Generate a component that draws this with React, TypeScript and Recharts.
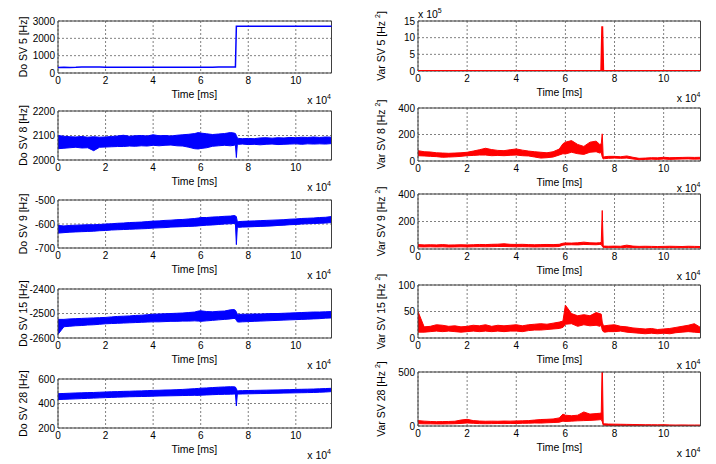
import React from 'react';
import { ComposedChart, Area, Line, XAxis, YAxis, CartesianGrid, ReferenceArea } from 'recharts';

const FONT = '"Liberation Sans", Arial, Helvetica, sans-serif';
const BLUE = '#0000ff';
const RED = '#ff0000';
const X_MAX = 115000;
const xTicks = [0, 20000, 40000, 60000, 80000, 100000];

// time axis in ms (shared by all series)
const timeMs = [
  0, 2500, 5000, 7500, 10000, 12500, 15000, 17500, 20000, 22500, 25000, 27500,
  30000, 32500, 35000, 37500, 40000, 42500, 45000, 47500, 50000, 52500, 55000, 57500,
  59000, 60000, 62500, 65000, 67500, 70000, 72500, 74000, 74600, 75000, 75400, 76000,
  77500, 80000, 82500, 85000, 87500, 90000, 92500, 95000, 97500, 100000, 102500, 105000, 107500, 110000, 112500, 115000,
];

// Doppler, SV 5 [Hz]
const doSv5 = [
  320, 325, 322, 328, 345, 352, 348, 340, 330, 328, 326, 330,
  328, 325, 327, 330, 328, 326, 329, 331, 328, 330, 327, 329,
  331, 330, 328, 332, 345, 352, 350, 346, 342, 2700, 2700, 2700,
  2700, 2700, 2700, 2700, 2700, 2700, 2700, 2700, 2700, 2700, 2700, 2700, 2700, 2700, 2700, 2700,
];
// Variance, SV 5 [Hz^2]
const varSv5 = [
  2500, 1800, 1500, 1200, 1600, 1400, 1100, 1300, 1200, 1500, 1400, 1300,
  1200, 1400, 1300, 1500, 1400, 1200, 1300, 1400, 1300, 1500, 1600, 1800,
  2500, 2200, 2600, 2400, 2300, 2700, 2600, 2500, 2400, 1340000, 900, 800,
  800, 700, 800, 900, 700, 600, 700, 650, 700, 600, 650, 700, 600, 650, 700, 600,
];

// SV 8 : noise envelope (low / high)
const doSv8Lo = [
  2046, 2048, 2050, 2052, 2049, 2050, 2038, 2052, 2053, 2054, 2055, 2055,
  2057, 2056, 2058, 2057, 2060, 2058, 2060, 2061, 2058, 2057, 2052, 2046,
  2045, 2047, 2050, 2056, 2058, 2060, 2058, 2060, 2062, 2010, 2063, 2064,
  2065, 2063, 2064, 2062, 2064, 2065, 2063, 2064, 2065, 2066, 2064, 2066, 2065, 2066, 2065, 2067,
];
const doSv8Hi = [
  2100, 2097, 2095, 2094, 2096, 2093, 2095, 2093, 2094, 2096, 2098, 2101,
  2097, 2099, 2100, 2098, 2103, 2099, 2100, 2098, 2101, 2103, 2105, 2108,
  2112, 2110, 2107, 2104, 2106, 2108, 2112, 2110, 2108, 2100, 2090, 2088,
  2087, 2088, 2087, 2090, 2091, 2089, 2091, 2090, 2092, 2091, 2093, 2092, 2094, 2092, 2094, 2093,
];
const varSv8Lo = [
  40, 38, 35, 33, 28, 30, 32, 35, 40, 42, 45, 45,
  40, 42, 40, 43, 45, 40, 38, 30, 22, 25, 30, 45,
  55, 53, 66, 55, 50, 66, 70, 60, 65, 30, 15, 18,
  20, 22, 20, 22, 15, 10, 12, 14, 12, 15, 12, 14, 15, 16, 14, 15,
];
const varSv8Hi = [
  78, 70, 68, 62, 60, 58, 60, 62, 66, 75, 85, 96,
  86, 80, 78, 85, 91, 82, 75, 70, 66, 62, 70, 90,
  130, 142, 154, 125, 110, 142, 150, 125, 130, 205, 30, 32,
  35, 35, 32, 38, 28, 20, 22, 25, 24, 28, 25, 26, 27, 28, 27, 28,
];

// SV 9
const doSv9Lo = [
  -638, -636, -634, -633, -632, -631, -630, -628, -627, -625, -624, -623,
  -622, -621, -620, -619, -617, -616, -615, -613, -612, -611, -610, -609,
  -608, -607, -605, -604, -602, -600, -599, -598, -597, -686, -614, -614,
  -613, -612, -611, -610, -609, -608, -606, -605, -603, -602, -600, -599, -598, -597, -596, -594,
];
const doSv9Hi = [
  -606, -608, -606, -605, -604, -603, -603, -602, -600, -599, -597, -596,
  -594, -593, -592, -590, -588, -587, -585, -584, -582, -581, -579, -577,
  -575, -573, -573, -571, -570, -568, -567, -565, -566, -570, -590, -590,
  -589, -588, -587, -586, -585, -584, -583, -582, -580, -579, -577, -576, -575, -573, -572, -569,
];
const varSv9Lo = [
  16, 15, 16, 15, 16, 14, 15, 16, 15, 16, 17, 16,
  17, 18, 18, 17, 16, 17, 16, 15, 16, 17, 16, 18,
  28, 30, 31, 30, 33, 32, 31, 33, 32, 20, 10, 11,
  10, 11, 10, 12, 11, 10, 10, 11, 10, 10, 11, 10, 10, 11, 10, 10,
];
const varSv9Hi = [
  32, 30, 31, 30, 32, 29, 30, 31, 30, 31, 33, 32,
  34, 35, 38, 34, 33, 34, 32, 31, 32, 33, 32, 34,
  42, 44, 43, 45, 50, 45, 44, 46, 48, 280, 22, 21,
  20, 21, 20, 28, 21, 19, 20, 19, 18, 19, 20, 19, 18, 20, 19, 18,
];

// SV 15
const doSv15Lo = [
  -2585, -2554, -2552, -2550, -2549, -2547, -2546, -2544, -2542, -2541, -2540, -2539,
  -2538, -2537, -2536, -2535, -2534, -2534, -2533, -2532, -2532, -2531, -2531, -2530,
  -2531, -2532, -2530, -2528, -2526, -2524, -2522, -2520, -2521, -2528, -2534, -2535,
  -2534, -2533, -2532, -2531, -2530, -2529, -2528, -2527, -2526, -2525, -2524, -2523, -2522, -2521, -2519, -2518,
];
const doSv15Hi = [
  -2524, -2524, -2522, -2521, -2520, -2519, -2518, -2517, -2516, -2514, -2512, -2511,
  -2510, -2508, -2507, -2505, -2503, -2502, -2501, -2500, -2499, -2498, -2496, -2494,
  -2490, -2489, -2492, -2493, -2491, -2490, -2485, -2484, -2487, -2494, -2503, -2504,
  -2503, -2503, -2502, -2502, -2501, -2500, -2500, -2499, -2498, -2497, -2496, -2495, -2494, -2494, -2493, -2492,
];
const varSv15Lo = [
  11, 11, 12, 13, 12, 13, 12, 11, 12, 13, 12, 13,
  12, 13, 12, 13, 13, 12, 14, 15, 15, 16, 17, 18,
  20, 26, 27, 22, 25, 23, 24, 22, 24, 15, 12, 11,
  12, 12, 13, 11, 10, 9, 8, 9, 8, 9, 8, 10, 11, 12, 11, 10,
];
const varSv15Hi = [
  50, 21, 22, 25, 24, 22, 23, 21, 22, 24, 23, 25,
  22, 24, 23, 24, 25, 23, 25, 26, 27, 26, 28, 30,
  32, 62, 46, 42, 44, 42, 48, 46, 45, 30, 24, 23,
  24, 25, 22, 21, 19, 18, 17, 18, 16, 17, 18, 20, 22, 24, 27, 20,
];

// SV 28
const doSv28Lo = [
  432, 434, 436, 438, 440, 442, 444, 446, 448, 450, 452, 453,
  455, 456, 457, 458, 460, 461, 462, 463, 464, 465, 466, 467,
  466, 468, 470, 472, 474, 475, 476, 477, 478, 380, 476, 477,
  478, 479, 480, 481, 482, 483, 484, 485, 486, 487, 488, 489, 490, 492, 494, 497,
];
const doSv28Hi = [
  480, 482, 484, 486, 487, 489, 490, 492, 494, 496, 497, 499,
  500, 502, 503, 505, 507, 508, 510, 511, 513, 515, 518, 521,
  523, 525, 527, 530, 533, 535, 537, 536, 534, 520, 503, 504,
  505, 506, 507, 508, 509, 510, 511, 512, 513, 515, 516, 517, 518, 520, 522, 524,
];
const varSv28Lo = [
  22, 20, 20, 19, 19, 20, 21, 24, 28, 25, 22, 21,
  22, 23, 22, 24, 23, 25, 26, 28, 27, 30, 32, 35,
  45, 42, 45, 48, 50, 52, 55, 58, 60, 40, 8, 6,
  5, 5, 4, 5, 3, 3, 2, 2, 3, 5, 2, 2, 2, 1, 2, 2,
];
const varSv28Hi = [
  50, 45, 42, 40, 41, 42, 44, 55, 62, 50, 46, 44,
  45, 44, 46, 45, 47, 48, 50, 55, 60, 62, 65, 75,
  110, 100, 95, 100, 130, 110, 115, 118, 120, 620, 22, 20,
  18, 17, 16, 15, 14, 13, 12, 12, 11, 12, 10, 9, 10, 9, 9, 9,
];

const rows = timeMs.map((t, i) => ({
  t,
  doSv5: doSv5[i],
  varSv5: varSv5[i],
  doSv8: [doSv8Lo[i], doSv8Hi[i]],
  varSv8: [varSv8Lo[i], varSv8Hi[i]],
  doSv9: [doSv9Lo[i], doSv9Hi[i]],
  varSv9: [varSv9Lo[i], varSv9Hi[i]],
  doSv15: [doSv15Lo[i], doSv15Hi[i]],
  varSv15: [varSv15Lo[i], varSv15Hi[i]],
  doSv28: [doSv28Lo[i], doSv28Hi[i]],
  varSv28: [varSv28Lo[i], varSv28Hi[i]],
}));

type PanelCfg = {
  key: string;
  kind: 'line' | 'band';
  color: string;
  label: string;
  squared: boolean;
  domain: [number, number];
  ticks: number[];
  yFormat?: (v: number) => string;
  left: number;
  right: number;
  top: number;
  bottom: number;
  labelX: number;
  width?: number;
};

const L = { left: 57.5, right: 331, labelX: 27 };
const R = { left: 418, right: 700.5, labelX: 385 };

const panels: PanelCfg[] = [
  { ...L, key: 'doSv5', kind: 'line', color: BLUE, label: 'Do SV 5 [Hz]', squared: false, domain: [0, 3000], ticks: [0, 1000, 2000, 3000], top: 21, bottom: 73, width: 1.5 },
  { ...L, key: 'doSv8', kind: 'band', color: BLUE, label: 'Do  SV 8 [Hz]', squared: false, domain: [2000, 2200], ticks: [2000, 2100, 2200], top: 111, bottom: 160 },
  { ...L, key: 'doSv9', kind: 'band', color: BLUE, label: 'Do  SV 9 [Hz]', squared: false, domain: [-700, -500], ticks: [-700, -600, -500], top: 200, bottom: 248 },
  { ...L, key: 'doSv15', kind: 'band', color: BLUE, label: 'Do SV 15 [Hz]', squared: false, domain: [-2600, -2400], ticks: [-2600, -2500, -2400], top: 289, bottom: 338 },
  { ...L, key: 'doSv28', kind: 'band', color: BLUE, label: 'Do SV 28 [Hz]', squared: false, domain: [200, 600], ticks: [200, 400, 600], top: 379, bottom: 428 },
  { ...R, key: 'varSv5', kind: 'line', color: RED, label: 'Var SV 5 [Hz ', squared: true, domain: [0, 1500000], ticks: [0, 500000, 1000000, 1500000], yFormat: (v) => String(v / 100000), top: 21, bottom: 71, width: 2 },
  { ...R, key: 'varSv8', kind: 'band', color: RED, label: 'Var SV 8 [Hz ', squared: true, domain: [0, 400], ticks: [0, 200, 400], top: 108, bottom: 161 },
  { ...R, key: 'varSv9', kind: 'band', color: RED, label: 'Var SV 9 [Hz ', squared: true, domain: [0, 400], ticks: [0, 200, 400], top: 194, bottom: 249 },
  { ...R, key: 'varSv15', kind: 'band', color: RED, label: 'Var SV 15 [Hz ', squared: true, domain: [0, 100], ticks: [0, 50, 100], top: 285, bottom: 338 },
  { ...R, key: 'varSv28', kind: 'band', color: RED, label: 'Var SV 28 [Hz ', squared: true, domain: [0, 500], ticks: [0, 500], top: 372, bottom: 426 },
];

const PAD_L = 60;
const PAD_T = 6;
const PAD_R = 6;
const PAD_B = 22;

function Panel({ p }: { p: PanelCfg }) {
  const w = p.right - p.left + PAD_L + PAD_R;
  const h = p.bottom - p.top + PAD_T + PAD_B;
  const tick = { fontSize: 10, fill: '#000', fontFamily: FONT };
  return (
    <div style={{ position: 'absolute', left: p.left - PAD_L, top: p.top - PAD_T }}>
      <ComposedChart width={w} height={h} data={rows} margin={{ top: PAD_T, right: PAD_R, bottom: 0, left: 0 }}>
        <CartesianGrid stroke="#808080" strokeDasharray="2 2" />
        <XAxis
          dataKey="t"
          type="number"
          domain={[0, X_MAX]}
          ticks={xTicks}
          interval={0}
          tickFormatter={(v) => String(v / 10000)}
          height={PAD_B}
          tickSize={0}
          tickMargin={4}
          axisLine={false}
          tick={tick}
        />
        <YAxis
          type="number"
          domain={p.domain}
          ticks={p.ticks}
          interval={0}
          allowDataOverflow
          tickFormatter={p.yFormat}
          width={PAD_L}
          tickSize={0}
          tickMargin={3}
          axisLine={false}
          tick={tick}
        />
        {p.kind === 'band' ? (
          <Area
            type="linear"
            dataKey={p.key}
            stroke={p.color}
            strokeWidth={1}
            fill={p.color}
            fillOpacity={1}
            dot={false}
            activeDot={false}
            isAnimationActive={false}
          />
        ) : (
          <Line
            type="linear"
            dataKey={p.key}
            stroke={p.color}
            strokeWidth={p.width ?? 1.5}
            dot={false}
            activeDot={false}
            isAnimationActive={false}
          />
        )}
        <ReferenceArea x1={0} x2={X_MAX} y1={p.domain[0]} y2={p.domain[1]} fill="none" stroke="#404040" strokeWidth={1} />
      </ComposedChart>
    </div>
  );
}

function Labels() {
  return (
    <svg width={716} height={464} style={{ position: 'absolute', left: 0, top: 0, pointerEvents: 'none' }} fontFamily={FONT} fill="#000">
      {panels.map((p) => {
        const cy = (p.top + p.bottom) / 2;
        return (
          <g key={p.key}>
            <text x={(p.left + p.right) / 2} y={p.bottom + 24.5} textAnchor="middle" fontSize={10.5}>
              Time [ms]
            </text>
            <text x={p.right} y={p.bottom + 31} textAnchor="end" fontSize={10.5}>
              x 10<tspan fontSize={7} dy={-5}>4</tspan>
            </text>
            <text transform={`translate(${p.labelX},${cy}) rotate(-90)`} textAnchor="middle" fontSize={10.5}>
              {p.label}
              {p.squared && (
                <>
                  <tspan fontSize={7} dy={-5}>2</tspan>
                  <tspan dy={5}>]</tspan>
                </>
              )}
            </text>
          </g>
        );
      })}
      <text x={418} y={18} fontSize={10.5}>
        x 10<tspan fontSize={7} dy={-5}>5</tspan>
      </text>
    </svg>
  );
}

export default function App() {
  return (
    <div style={{ position: 'absolute', left: 0, top: 0, width: 716, height: 464, background: '#fff', overflow: 'hidden', fontFamily: FONT }}>
      {panels.map((p) => (
        <Panel key={p.key} p={p} />
      ))}
      <Labels />
    </div>
  );
}
